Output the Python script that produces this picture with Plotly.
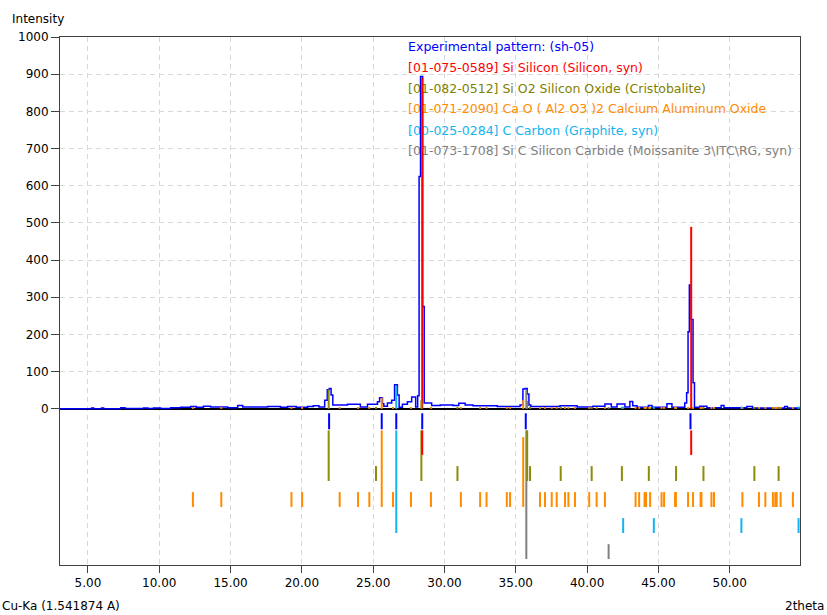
import plotly.graph_objects as go

# ---------------- data ----------------
# experimental pattern (step starts, counts)
exp_2theta = [3.0, 5.25, 5.4, 5.95, 6.1, 7.3, 7.6, 8.9, 9.2, 9.6, 10.1, 10.8, 11.5, 12.2, 12.6,
              13.1, 13.6, 14.8, 15.5, 15.85, 17.6, 18.5, 19.0, 19.6, 20.4, 20.8, 21.2, 21.6,
              21.78, 21.92, 22.05, 22.17, 23.2, 24.1, 24.6, 25.3, 25.45, 25.65, 25.75, 26.0,
              26.3, 26.5, 26.7, 26.82, 27.05, 27.4, 27.7, 27.98, 28.12, 28.22, 28.32, 28.47,
              28.58, 29.1, 29.7, 30.6, 31.0, 31.45, 32.0, 33.7, 35.3, 35.5, 35.65, 35.8, 35.92,
              36.05, 38.1, 39.3, 40.4, 41.25, 41.7, 42.1, 42.65, 43.0, 43.2, 43.5, 44.3, 44.55,
              45.6, 45.95, 46.85, 46.98, 47.08, 47.17, 47.3, 47.43, 47.53, 47.9, 48.4, 49.4,
              49.6, 51.2, 51.6, 53.85, 54.05, 55.0]
exp_counts = [0, 2, 0, 2, 0, 3, 1, 2, 1, 2, 1, 3, 4, 6, 4,
              7, 5, 3, 9, 5, 6, 4, 6, 4, 6, 8, 5, 23,
              51, 55, 37, 10, 12, 5, 12, 19, 30, 14, 7, 16,
              23, 65, 37, 4, 12, 19, 32, 5, 35, 625, 894, 275,
              16, 9, 10, 9, 15, 10, 8, 6, 10, 53, 55, 40, 10,
              6, 8, 5, 7, 13, 5, 13, 5, 20, 8, 4, 9, 4,
              14, 4, 16, 43, 207, 333, 240, 70, 4, 7, 3, 9,
              3, 6, 2, 6, 2, 2]

# peaks found in experimental pattern
peak_2theta = [21.91, 25.6, 26.62, 28.44, 35.7, 47.25]

# reference patterns: positions (2theta) and relative intensities (%)
si_2theta = [28.44, 47.30]
si_int = [100, 55]

crist_2theta = [21.88, 25.2, 28.38, 30.91, 35.8, 36.0, 38.15, 40.32, 42.44, 44.33, 46.24,
                48.16, 51.73, 53.43]
crist_int = [100, 10, 45, 10, 40, 10, 10, 10, 10, 10, 10, 10, 10, 10]

caal_2theta = [12.36, 14.35, 19.27, 20.02, 22.65, 23.94, 24.73, 25.6, 26.39, 27.65, 29.05,
               31.15, 32.5, 32.95, 34.37, 34.6, 35.52, 36.7, 37.05, 37.52, 37.87, 38.45, 38.69,
               39.15, 40.15, 40.67, 41.25, 43.4, 43.65, 44.03, 44.13, 44.42, 45.22, 45.4, 46.17,
               46.23, 47.08, 47.43, 47.96, 48.02, 48.72, 48.9, 50.89, 52.05, 52.5, 53.03, 53.2,
               53.3, 53.57, 54.43]
caal_int = [10] * len(caal_2theta)
caal_int[caal_2theta.index(25.6)] = 60
caal_int[caal_2theta.index(35.52)] = 47

graph_2theta = [26.62, 42.53, 44.68, 50.82, 54.83]
graph_int = [100, 10, 10, 10, 10]

sic_2theta = [35.74, 41.51]
sic_int = [100, 10]

# counts of the strongest line of each reference scaled onto the experimental pattern
si_scale = 890
crist_scale = 52
caal_scale = 50
graph_scale = 62
sic_scale = 50

legend_labels = [
    "Experimental pattern: (sh-05)",
    "[01-075-0589] Si Silicon (Silicon, syn)",
    "[01-082-0512] Si O2 Silicon Oxide (Cristobalite)",
    "[01-071-2090] Ca O ( Al2 O3 )2 Calcium Aluminum Oxide",
    "[00-025-0284] C Carbon (Graphite, syn)",
    "[01-073-1708] Si C Silicon Carbide (Moissanite 3\\ITC\\RG, syn)",
]

x_ticks = [5, 10, 15, 20, 25, 30, 35, 40, 45, 50]
x_ticktext = ["%.2f" % v for v in x_ticks]
y_ticks = list(range(0, 1001, 100))

# ---------------- style ----------------
C_BLUE = "#0000ff"
C_RED = "#ff0000"
C_OLIVE = "#8c8c0a"
C_OLIVE_TXT = "#808000"
C_ORANGE = "#ff8c00"
C_CYAN = "#12b4f0"
C_GRAY = "#808080"
FONT = "DejaVu Sans"
FS = 12

ROW_FIRST = -124   # baseline of first reference row (data units)
ROW_STEP = 70
ROW_TOP = -58      # sticks are clipped here
LEN_PER_PCT = 4.0
MARK_TOP, MARK_BOT = -12, -55


def sticks_main(pos, inten, scale):
    xs, ys = [], []
    for p, i in zip(pos, inten):
        xs += [p, p, None]
        ys += [0, scale * i / 100.0, None]
    return xs, ys


def sticks_row(pos, inten, row):
    base = ROW_FIRST - ROW_STEP * row
    xs, ys = [], []
    for p, i in zip(pos, inten):
        top = min(base + LEN_PER_PCT * i, ROW_TOP)
        xs += [p, p, None]
        ys += [base, top, None]
    return xs, ys


fig = go.Figure()

# legend text (under the lines, as in the original)
leg_colors = [C_BLUE, C_RED, C_OLIVE_TXT, C_ORANGE, C_CYAN, C_GRAY]
leg_y = [971, 915, 858, 803, 746, 690]
fig.add_trace(go.Scatter(x=[27.45] * 6, y=leg_y, mode="text", text=legend_labels,
                         textposition="middle right", cliponaxis=False,
                         textfont=dict(family=FONT, size=12.5, color=leg_colors),
                         hoverinfo="skip", showlegend=False))

# experimental pattern
fig.add_trace(go.Scatter(x=exp_2theta, y=exp_counts, mode="lines",
                         line=dict(color=C_BLUE, width=1.5, shape="hv"),
                         showlegend=False))

refs = [
    (si_2theta, si_int, si_scale, C_RED),
    (crist_2theta, crist_int, crist_scale, C_OLIVE),
    (caal_2theta, caal_int, caal_scale, C_ORANGE),
    (graph_2theta, graph_int, graph_scale, C_CYAN),
    (sic_2theta, sic_int, sic_scale, C_GRAY),
]

# reference sticks in the main pattern
for pos, inten, scale, col in refs:
    xs, ys = sticks_main(pos, inten, scale)
    fig.add_trace(go.Scatter(x=xs, y=ys, mode="lines", line=dict(color=col, width=2),
                             showlegend=False, hoverinfo="skip"))

# peak markers
xs, ys = [], []
for p in peak_2theta:
    xs += [p, p, None]
    ys += [MARK_TOP, MARK_BOT, None]
fig.add_trace(go.Scatter(x=xs, y=ys, mode="lines", line=dict(color=C_BLUE, width=2),
                         showlegend=False, hoverinfo="skip"))

# reference rows (lower pane), drawn bottom row first
for row in range(len(refs) - 1, -1, -1):
    pos, inten, scale, col = refs[row]
    xs, ys = sticks_row(pos, inten, row)
    fig.add_trace(go.Scatter(x=xs, y=ys, mode="lines", line=dict(color=col, width=2),
                             showlegend=False, hoverinfo="skip"))

fig.update_layout(
    width=827, height=615,
    margin=dict(l=60, r=27, t=37, b=50),
    paper_bgcolor="white", plot_bgcolor="white",
    font=dict(family=FONT, size=FS, color="black"),
    showlegend=False,
    xaxis=dict(range=[3.04, 54.93], tickvals=x_ticks, ticktext=x_ticktext,
               showgrid=True, gridcolor="#d8d8d8", griddash="5px,4px", gridwidth=1,
               showline=True, mirror=True, linecolor="#404040", linewidth=1,
               ticks="outside", ticklen=7, tickcolor="#404040", zeroline=False,
               tickfont=dict(family=FONT, size=FS), automargin=False),
    yaxis=dict(range=[-420, 1000], tickvals=y_ticks,
               showgrid=True, gridcolor="#d8d8d8", griddash="5px,4px", gridwidth=1,
               showline=True, mirror=True, linecolor="#404040", linewidth=1,
               ticks="outside", ticklen=8, tickcolor="#404040",
               zeroline=True, zerolinecolor="black", zerolinewidth=1.5,
               tickfont=dict(family=FONT, size=FS), automargin=False),
    annotations=[
        dict(text="Intensity", xref="paper", yref="paper", x=-0.0676, y=1.034,
             xanchor="left", yanchor="middle", showarrow=False,
             font=dict(family=FONT, size=FS)),
        dict(text="Cu-Ka (1.541874 A)", xref="paper", yref="paper", x=-0.081, y=-0.0777,
             xanchor="left", yanchor="middle", showarrow=False,
             font=dict(family=FONT, size=FS)),
        dict(text="2theta", xref="paper", yref="paper", x=1.035, y=-0.0777,
             xanchor="right", yanchor="middle", showarrow=False,
             font=dict(family=FONT, size=FS)),
    ],
)

fig.write_html("out.html", config={"displayModeBar": False},
               post_script="document.body.style.margin='0';document.body.style.padding='0';")
